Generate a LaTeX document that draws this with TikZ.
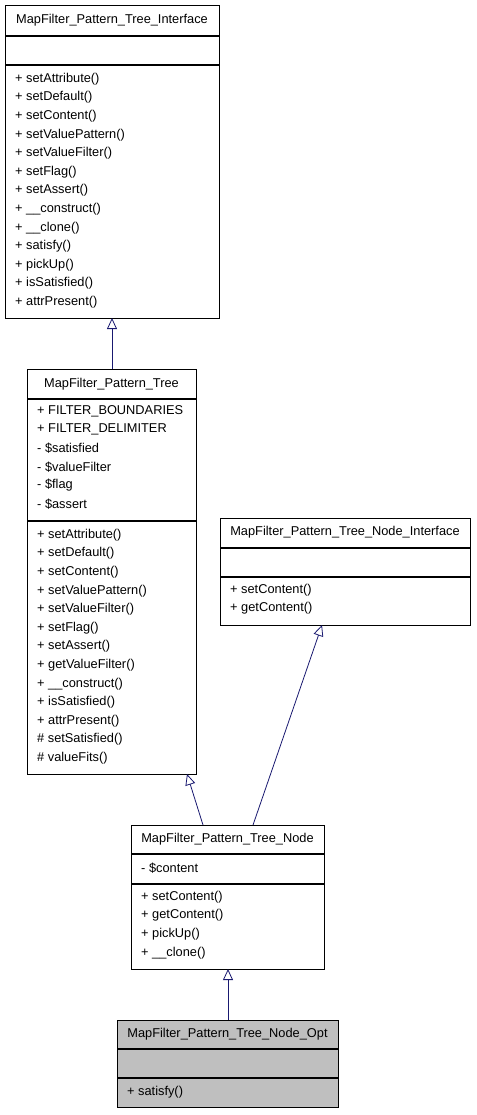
\documentclass[tikz,border=0pt]{standalone}
\usepackage{fontspec}
\setmainfont{Liberation Sans}
\usetikzlibrary{arrows.meta}
\definecolor{edgeblue}{HTML}{191970}
\definecolor{boxgray}{HTML}{BFBFBF}
\tikzset{
  classbox/.style={draw=black, line width=0.9pt, fill=white},
  sepline/.style={draw=black, line width=1.1pt},
  titletext/.style={font=\fontsize{12.8}{14}\selectfont, inner sep=0pt},
  membertext/.style={font=\fontsize{12.8}{14}\selectfont, inner sep=0pt, anchor=west},
  inherit/.style={draw=edgeblue, line width=0.8pt, -{Triangle[open, length=11pt, width=10pt, line width=0.8pt]}}
}
\begin{document}
\begin{tikzpicture}[x=1pt, y=-1pt]
\useasboundingbox (0,0) rectangle (476,1115);

% Box 1: MapFilter_Pattern_Tree_Interface
\draw[classbox] (5,5) rectangle (219,318);
\node[titletext] (b1t) at (112,20) {MapFilter\_Pattern\_Tree\_Interface};
\draw[sepline] (5,36) -- (219,36);
\draw[sepline] (5,65) -- (219,65);
\foreach \t [count=\i from 0] in {setAttribute(),setDefault(),setContent(),setValuePattern(),setValueFilter(),setFlag(),setAssert(),\_\_construct(),\_\_clone(),satisfy(),pickUp(),isSatisfied(),attrPresent()}
  \node[membertext] (b1m\i) at (15,{79+18.6*\i}) {+ \t};
\coordinate (b1b) at (112,318);

% Box 2: MapFilter_Pattern_Tree
\draw[classbox] (27,369) rectangle (196,774);
\node[titletext] (b2t) at (111.5,384) {MapFilter\_Pattern\_Tree};
\draw[sepline] (27,399) -- (196,399);
\foreach \t [count=\i from 0] in {+ FILTER\_BOUNDARIES,+ FILTER\_DELIMITER,- \$satisfied,- \$valueFilter,- \$flag,- \$assert}
  \node[membertext] (b2a\i) at (37,{411+18.6*\i}) {\t};
\draw[sepline] (27,521) -- (196,521);
\foreach \t [count=\i from 0] in {+ setAttribute(),+ setDefault(),+ setContent(),+ setValuePattern(),+ setValueFilter(),+ setFlag(),+ setAssert(),+ getValueFilter(),+ \_\_construct(),+ isSatisfied(),+ attrPresent(),\# setSatisfied(),\# valueFits()}
  \node[membertext] (b2m\i) at (37,{535+18.6*\i}) {\t};
\coordinate (b2top) at (112,369);
\coordinate (b2b) at (187,774);

% Box 3: MapFilter_Pattern_Tree_Node_Interface
\draw[classbox] (220,518) rectangle (470,625);
\node[titletext] (b3t) at (345,532) {MapFilter\_Pattern\_Tree\_Node\_Interface};
\draw[sepline] (220,548) -- (470,548);
\draw[sepline] (220,577) -- (470,577);
\node[membertext] (b3m0) at (230,590) {+ setContent()};
\node[membertext] (b3m1) at (230,608.6) {+ getContent()};
\coordinate (b3b) at (322,625);

% Box 4: MapFilter_Pattern_Tree_Node
\draw[classbox] (131,825) rectangle (324,969);
\node[titletext] (b4t) at (227.5,839) {MapFilter\_Pattern\_Tree\_Node};
\draw[sepline] (131,854) -- (324,854);
\node[membertext] (b4a0) at (141,868) {- \$content};
\draw[sepline] (131,884) -- (324,884);
\foreach \t [count=\i from 0] in {setContent(),getContent(),pickUp(),\_\_clone()}
  \node[membertext] (b4m\i) at (141,{897+18.6*\i}) {+ \t};
\coordinate (b4tl) at (203,825);
\coordinate (b4tr) at (253,825);
\coordinate (b4b) at (228,969);

% Box 5: MapFilter_Pattern_Tree_Node_Opt
\draw[classbox, fill=boxgray] (117,1020) rectangle (338,1107);
\node[titletext] (b5t) at (227.5,1034) {MapFilter\_Pattern\_Tree\_Node\_Opt};
\draw[sepline] (117,1049) -- (338,1049);
\draw[sepline] (117,1078) -- (338,1078);
\node[membertext] (b5m0) at (127,1092) {+ satisfy()};
\coordinate (b5top) at (228,1020);

% Inheritance connectors
\draw[inherit] (b2top) -- (b1b);
\draw[inherit] (b4tl) -- (b2b);
\draw[inherit] (b4tr) -- (b3b);
\draw[inherit] (b5top) -- (b4b);
\end{tikzpicture}
\end{document}
